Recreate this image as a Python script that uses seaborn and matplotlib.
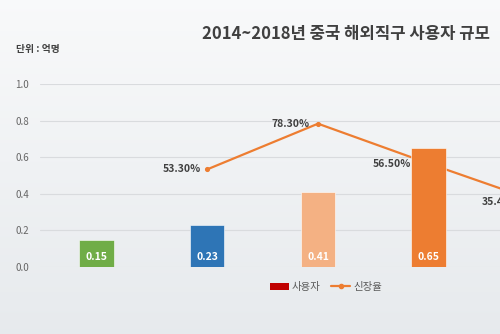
import numpy as np
import pandas as pd
import matplotlib
matplotlib.use("Agg")
import matplotlib.pyplot as plt
import seaborn as sns
from matplotlib.patches import Patch
from matplotlib.lines import Line2D

years = ["2014", "2015", "2016", "2017", "2018"]
users = [0.15, 0.23, 0.41, 0.65, 0.88]
bar_labels = ["0.15", "0.23", "0.41", "0.65", "0.88"]
growth_years = ["2015", "2016", "2017", "2018"]
growth = [0.533, 0.783, 0.565, 0.354]
growth_labels = ["53.30%", "78.30%", "56.50%", "35.40%"]
bar_colors = ["#70ad47", "#2e75b6", "#f4b183", "#ed7d31", "#c55a11"]
line_color = "#ed7d31"
yticks = [0.0, 0.2, 0.4, 0.6, 0.8, 1.0]
label_gaps_pt = [4.3, 5.8, 13.0, 14.4]  # styling: label offset left of point

sns.set_style("white")
plt.rcParams["font.family"] = ["Noto Sans CJK KR", "DejaVu Sans"]

fig = plt.figure(figsize=(5, 3.34), dpi=100)

# background gradient
bg = fig.add_axes([0, 0, 1, 1], zorder=-10)
grad = np.linspace(0, 1, 256).reshape(-1, 1)
top = np.array([0.975, 0.978, 0.982])
bot = np.array([0.905, 0.918, 0.930])
img = top[None, None, :] * (1 - grad[:, :, None]) + bot[None, None, :] * grad[:, :, None]
bg.imshow(img, aspect="auto", extent=[0, 1, 0, 1], origin="upper")
bg.axis("off")

ax = fig.add_axes([0.08, 0.2006, 0.92, 0.548])
ax.patch.set_alpha(0)

df = pd.DataFrame({"year": years, "users": users})
sns.barplot(data=df, x="year", y="users", hue="year", palette=bar_colors,
            order=years, legend=False, width=0.315, ax=ax, zorder=3,
            saturation=1, edgecolor="#ffffff", linewidth=0.4)

gdf = pd.DataFrame({"year": growth_years, "growth": growth})
sns.pointplot(data=gdf, x="year", y="growth", order=years, color=line_color,
              markers="o", markersize=2.5, linewidth=1.6, ax=ax)
for ln in ax.lines:
    ln.set_zorder(2)

# value labels inside bars
for p, lab in zip(ax.patches, bar_labels):
    ax.text(p.get_x() + p.get_width() / 2, 0.055, lab, ha="center", va="center",
            color="white", fontsize=7.5, fontweight="bold", zorder=5)

# growth labels
for yr, g, lab, gap in zip(growth_years, growth, growth_labels, label_gaps_pt):
    xpos = years.index(yr)
    ax.annotate(lab, (xpos, g), xytext=(-gap, 0), textcoords="offset points",
                ha="right", va="center", fontsize=7.5, fontweight="bold",
                color="#404040", zorder=5, annotation_clip=False)

ax.set_xlim(-0.505, 3.64)
ax.set_ylim(0, 1.0)
ax.set_yticks(yticks)
ax.set_yticklabels([f"{t:.1f}" for t in yticks])
ax.set_xticks([])
ax.set_xlabel("")
ax.set_ylabel("")
ax.yaxis.grid(True, color="#d9dbde", linewidth=0.8, zorder=0)
ax.set_axisbelow(True)
for s in ax.spines.values():
    s.set_visible(False)
ax.tick_params(axis="y", length=0, pad=8, labelsize=7, labelcolor="#666666")

fig.text(0.693, 0.898, "2014~2018년 중국 해외직구 사용자 규모", ha="center", va="center",
         fontsize=12, fontweight="bold", color="#404040")
fig.text(0.032, 0.852, "단위 : 억명", ha="left", va="center", fontsize=7,
         fontweight="bold", color="#404040")

handles = [Patch(facecolor="#c00000", edgecolor="none"),
           Line2D([0], [0], color=line_color, marker="o", markersize=3, linewidth=1.6)]
fig.legend(handles, ["사용자", "신장율"], loc="center", bbox_to_anchor=(0.652, 0.141),
           ncol=2, frameon=False, fontsize=7.5, handlelength=1.8, handletextpad=0.3,
           columnspacing=1.0, labelcolor="#595959")

fig.savefig("out.png", dpi=100)
